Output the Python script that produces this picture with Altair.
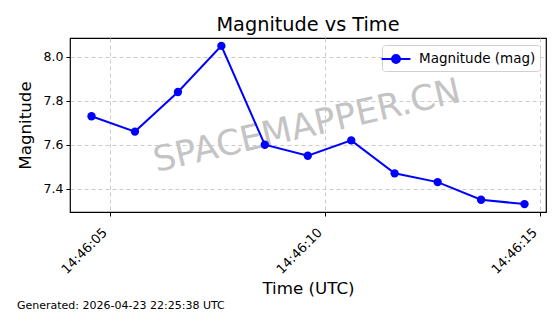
import altair as alt
import pandas as pd

# Data
times = [
    "2026-04-23T14:46:04.58Z", "2026-04-23T14:46:05.59Z", "2026-04-23T14:46:06.59Z",
    "2026-04-23T14:46:07.60Z", "2026-04-23T14:46:08.61Z", "2026-04-23T14:46:09.61Z",
    "2026-04-23T14:46:10.62Z", "2026-04-23T14:46:11.63Z", "2026-04-23T14:46:12.63Z",
    "2026-04-23T14:46:13.64Z", "2026-04-23T14:46:14.65Z",
]
magnitudes = [7.73, 7.66, 7.84, 8.05, 7.60, 7.55, 7.62, 7.47, 7.43, 7.35, 7.33]
series_name = ["Magnitude (mag)"] * len(times)
x_tick_seconds = [5, 10, 15]
x_domain = ["2026-04-23T14:46:04.08Z", "2026-04-23T14:46:15.15Z"]
y_domain = [7.294, 8.086]
y_ticks = [7.4, 7.6, 7.8, 8.0]
title_text = "Magnitude vs Time"
footer_text = "Generated: 2026-04-23 22:25:38 UTC"
watermark_text = "SPACEMAPPER.CN"

df = pd.DataFrame({"time": times, "mag": magnitudes, "series": series_name})
one = pd.DataFrame({"k": [0]})

FONT = "DejaVu Sans"
W, H = 476, 174
BLUE = "#0000ff"

x_enc = alt.X(
    "time:T",
    scale=alt.Scale(type="utc", domain=x_domain, nice=False),
    axis=alt.Axis(
        title="Time (UTC)",
        values=[alt.DateTime(year=2026, month=4, date=23, hours=14, minutes=46, seconds=s, utc=True)
                for s in x_tick_seconds],
        labelExpr="utcFormat(datum.value, '%H:%M:%S')",
        labelAngle=315,
        labelAlign="right",
        labelBaseline="bottom",
        labelFontSize=13,
        labelColor="black",
        labelPadding=19,
        labelOverlap=False,
        labelLimit=300,
        tickSize=4,
        tickColor="black",
        domain=False,
        grid=True,
        gridDash=[4, 3],
        gridColor="#cccccc",
        titleFontSize=16.7,
        titleFontWeight="normal",
        titleColor="black",
        titlePadding=4,
    ),
)
y_enc = alt.Y(
    "mag:Q",
    scale=alt.Scale(domain=y_domain, nice=False, zero=False),
    axis=alt.Axis(
        title="Magnitude",
        values=y_ticks,
        format=".1f",
        labelFontSize=12.5,
        labelColor="black",
        labelPadding=3,
        tickSize=4,
        tickColor="black",
        domain=False,
        grid=True,
        gridDash=[4, 3],
        gridColor="#cccccc",
        titleFontSize=16.7,
        titleFontWeight="normal",
        titleColor="black",
        titlePadding=9,
    ),
)

color_enc = alt.Color(
    "series:N",
    scale=alt.Scale(range=[BLUE]),
    legend=alt.Legend(
        title=None,
        orient="none",
        legendX=312,
        legendY=7,
        symbolType="M -1.67 0 L 1.67 0 M -0.46 0 A 0.46 0.46 0 1 0 0.46 0 A 0.46 0.46 0 1 0 -0.46 0",
        symbolSize=300,
        symbolStrokeWidth=2,
        symbolFillColor=BLUE,
        symbolStrokeColor=BLUE,
        labelFontSize=13.5,
        labelColor="black",
        labelFont=FONT,
        labelOffset=13,
        padding=4,
        strokeColor="#d0d0d0",
        fillColor="white",
        cornerRadius=3,
    ),
)

watermark = alt.Chart(one).mark_text(
    text=watermark_text, font=FONT, fontSize=35, color="#c4c4c4", angle=347,
    align="center", baseline="middle",
).encode(x=alt.value(237), y=alt.value(88))

line = alt.Chart(df).mark_line(
    strokeWidth=2,
    point=alt.OverlayMarkDef(filled=True, size=70, opacity=1, color=BLUE),
).encode(x=x_enc, y=y_enc, color=color_enc)

footer = alt.Chart(one).mark_text(
    text=footer_text, font=FONT, fontSize=11, color="black", align="left", baseline="alphabetic",
).encode(x=alt.value(-53), y=alt.value(H + 97))

chart = alt.layer(watermark, line, footer).properties(
    width=W,
    height=H,
    title=alt.TitleParams(title_text, fontSize=19.3, font=FONT, fontWeight="normal", color="black",
                          anchor="middle", offset=3),
    autosize=alt.AutoSizeParams(type="none"),
    padding={"left": 70, "top": 38, "right": 14, "bottom": 102},
).configure(font=FONT).configure_view(stroke="black", strokeWidth=1.2).configure_axis(
    labelFont=FONT, titleFont=FONT
)

chart.save("out.html", embed_options={"renderer": "svg", "actions": False})
